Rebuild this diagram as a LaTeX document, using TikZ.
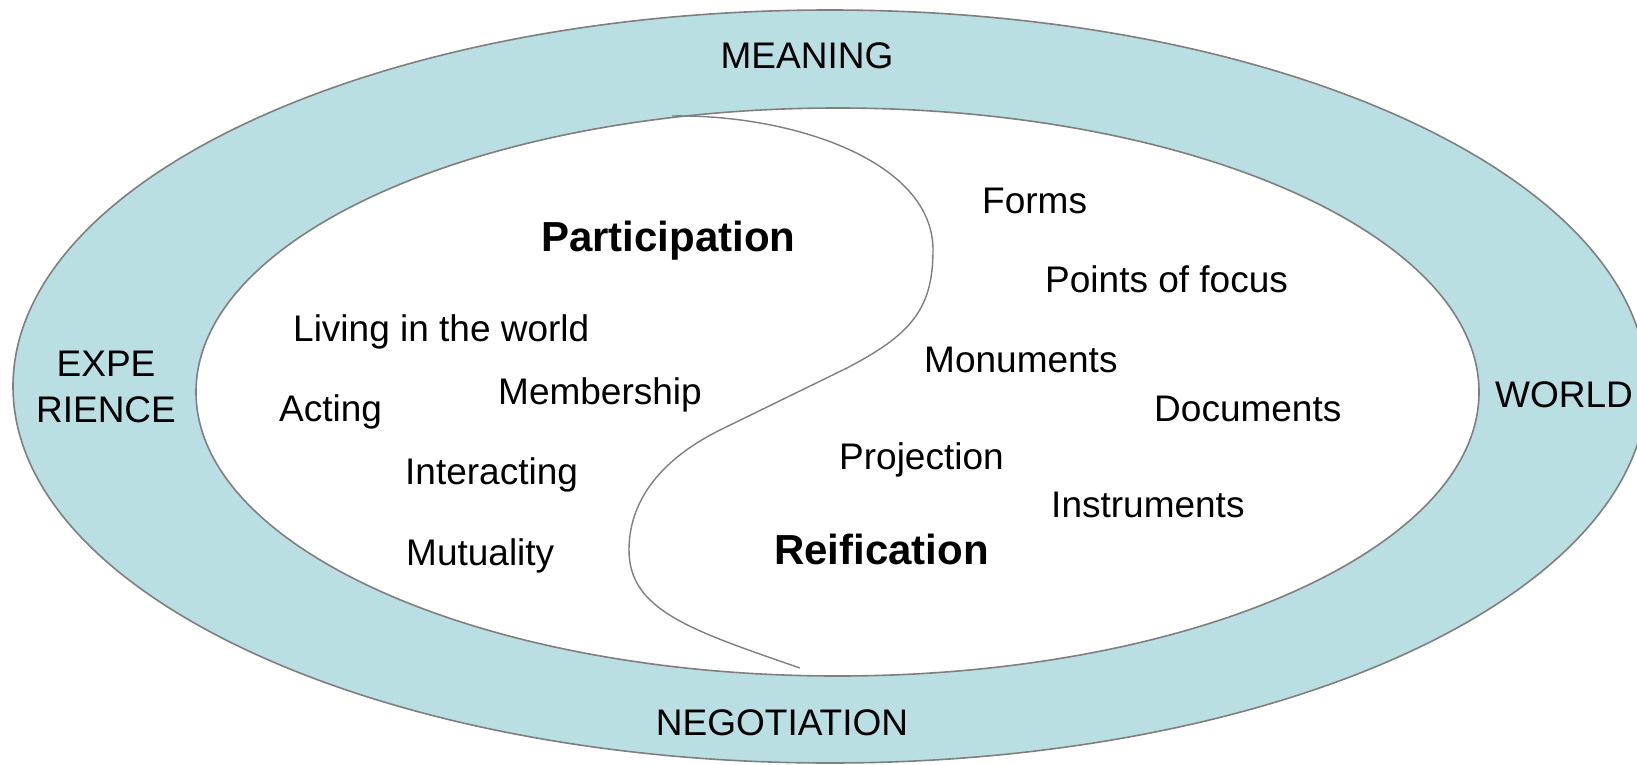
\documentclass[tikz,border=0pt]{standalone}
\usepackage{fontspec}
\setmainfont{Liberation Sans}
\definecolor{ringfill}{HTML}{B9DFE3}
\definecolor{edgegrey}{HTML}{7F7F7F}
\begin{document}
\begin{tikzpicture}[x=1pt,y=-1pt,
  lbl/.style={anchor=base west, inner sep=0pt, font=\fontsize{37}{44}\selectfont},
  head/.style={anchor=base west, inner sep=0pt, font=\fontsize{42}{50}\selectfont\bfseries},
  ringlbl/.style={anchor=base, inner sep=0pt, font=\fontsize{37}{44}\selectfont},
  outline/.style={draw=edgegrey, line width=1.6pt}]
\useasboundingbox (0,0) rectangle (1637,765);
\clip (0,0) rectangle (1637,765);
\fill[white] (0,0) rectangle (1637,765);

% outer ring and inner field
\path[outline, fill=ringfill] (830,386.5) ellipse [x radius=817, y radius=376.5];
\path[outline, fill=white] (837.5,392) ellipse [x radius=641.5, y radius=284];

% dividing S-curve between participation and reification
\draw[edgegrey, line width=1.4pt]
  (672,116) .. controls (790,114) and (933,160) .. (933,250)
  .. controls (933,310) and (910,335) .. (847,368)
  -- (720,430)
  .. controls (650,465) and (629,510) .. (629,550)
  .. controls (629,610) and (690,630) .. (800,668);

% ring labels
\node[ringlbl] (meaning) at (807,69) {MEANING};
\node[ringlbl] (negotiation) at (782,735) {NEGOTIATION};
\node[ringlbl] (expe) at (106,376) {EXPE};
\node[ringlbl] (rience) at (106,422) {RIENCE};
\node[ringlbl] (world) at (1564,407) {WORLD};

% participation side
\node[head] (participation) at (541,251) {Participation};
\node[lbl] (living) at (293,341) {Living in the world};
\node[lbl] (membership) at (498,404) {Membership};
\node[lbl] (acting) at (279,421) {Acting};
\node[lbl] (interacting) at (405,484) {Interacting};
\node[lbl] (mutuality) at (406,565) {Mutuality};

% reification side
\node[head] (reification) at (774,564) {Reification};
\node[lbl] (forms) at (982,213) {Forms};
\node[lbl] (focus) at (1045,292) {Points of focus};
\node[lbl] (monuments) at (924,372) {Monuments};
\node[lbl] (documents) at (1154,421) {Documents};
\node[lbl] (projection) at (839,469) {Projection};
\node[lbl] (instruments) at (1051,517) {Instruments};
\end{tikzpicture}
\end{document}
